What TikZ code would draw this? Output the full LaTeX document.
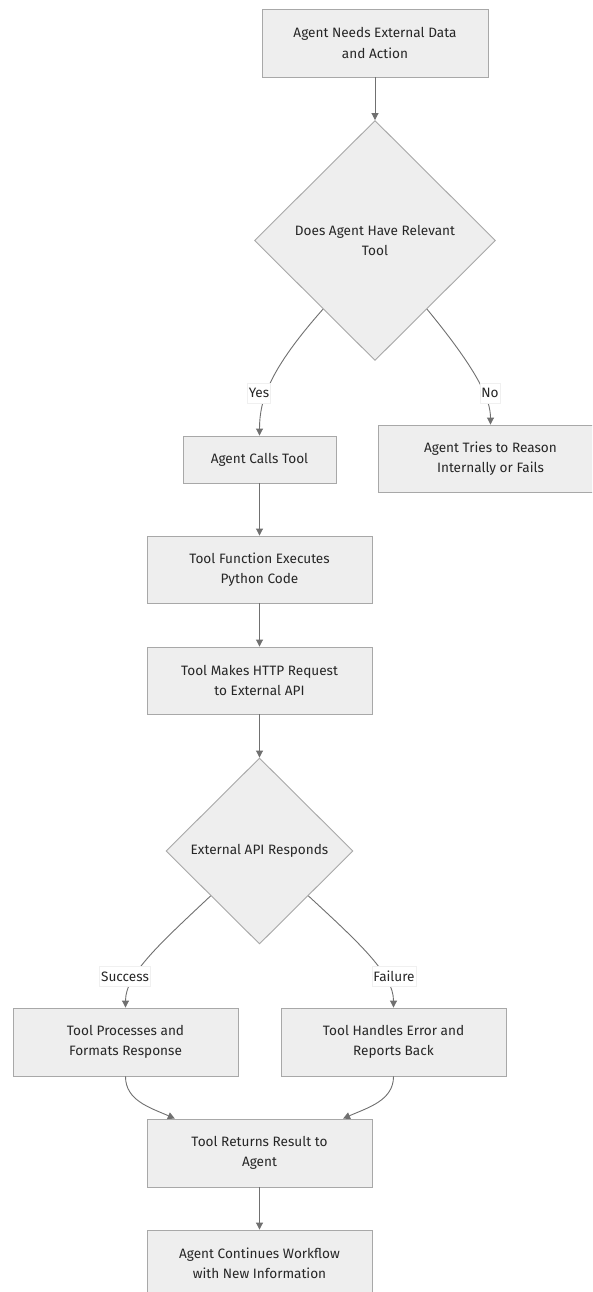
\documentclass[tikz,border=0pt]{standalone}
\usepackage{fontspec}
\setmainfont{Fira Sans}
\usetikzlibrary{shapes.geometric,arrows.meta,calc}
\definecolor{boxfill}{HTML}{EEEEEE}
\definecolor{boxline}{HTML}{A8A8A8}
\definecolor{edgeline}{HTML}{707070}
\definecolor{txt}{HTML}{262626}
\begin{document}
\begin{tikzpicture}[x=1pt,y=-1pt,
  every node/.style={font=\fontsize{13.6}{20.5}\selectfont, text=txt},
  stepbox/.style={draw=boxline, fill=boxfill, line width=0.9pt, rectangle,
    minimum width=225, minimum height=68, inner sep=0, align=center},
  smallbox/.style={stepbox, minimum width=153, minimum height=47},
  decision/.style={draw=boxline, fill=boxfill, line width=0.9pt, diamond,
    inner sep=0, align=center},
  lbl/.style={fill=white, draw=gray!12, line width=0.5pt, inner xsep=1.5pt,
    inner ysep=2pt, minimum height=20},
  flow/.style={draw=edgeline, line width=0.9pt,
    -{Triangle[length=7pt,width=7pt]}}
]
\clip (0,0) rectangle (592,1292);
\fill[white] (0,0) rectangle (592,1292);

% nodes
\node[stepbox, minimum width=226] (start) at (375,43) {Agent Needs External Data\\and Action};
\node[decision, minimum width=241, minimum height=240] (hastool) at (375,240.5) {Does Agent Have Relevant\\Tool};
\node[smallbox] (calls) at (259.5,459.5) {Agent Calls Tool};
\node[stepbox, minimum height=67] (fails) at (490.5,458.5) {Agent Tries to Reason\\Internally or Fails};
\node[stepbox, minimum height=67] (exec) at (259.5,569.5) {Tool Function Executes\\Python Code};
\node[stepbox, minimum height=67] (http) at (259.5,680.5) {Tool Makes HTTP Request\\to External API};
\node[decision, minimum width=187, minimum height=186] (responds) at (259.5,851) {External API Responds};
\node[stepbox] (process) at (125.5,1042) {Tool Processes and\\Formats Response};
\node[stepbox] (handle) at (393.5,1042) {Tool Handles Error and\\Reports Back};
\node[stepbox] (returns) at (259.5,1153) {Tool Returns Result to\\Agent};
\node[stepbox, minimum height=67] (cont) at (259.5,1263.5) {Agent Continues Workflow\\with New Information};

% straight connectors
\draw[flow] (start.south) -- (hastool.north);
\draw[flow] (calls.south) -- (exec.north);
\draw[flow] (exec.south) -- (http.north);
\draw[flow] (http.south) -- (responds.north);
\draw[flow] (returns.south) -- (cont.north);

% branching connectors
\coordinate (yesout) at ($(hastool.south)!0.43!(hastool.west)$);
\coordinate (noout) at ($(hastool.south)!0.43!(hastool.east)$);
\coordinate (okout) at ($(responds.south)!0.52!(responds.west)$);
\coordinate (errout) at ($(responds.south)!0.52!(responds.east)$);
\coordinate (noin) at (fails.north);
\coordinate (retl) at ($(returns.north west)!0.125!(returns.north east)$);
\coordinate (retr) at ($(returns.north west)!0.87!(returns.north east)$);

\draw[flow] (yesout) .. controls +(-53,60) and +(0,-36) .. (calls.north);
\draw[flow] (noout) .. controls +(51,62) and +(0,-25) .. (noin);
\draw[flow] (okout) .. controls +(-51,48) and +(0,-33) .. (process.north);
\draw[flow] (errout) .. controls +(52,48) and +(0,-33) .. (handle.north);
\draw[flow] (process.south) .. controls +(0,24) and +(-25,-11) .. (retl);
\draw[flow] (handle.south) .. controls +(0,24) and +(25,-11) .. (retr);

% edge labels
\node[lbl] (lyes) at (259,393) {Yes};
\node[lbl] (lno) at (490,393) {No};
\node[lbl] (lok) at (125,976.5) {Success};
\node[lbl] (lerr) at (394,976.5) {Failure};
\end{tikzpicture}
\end{document}
